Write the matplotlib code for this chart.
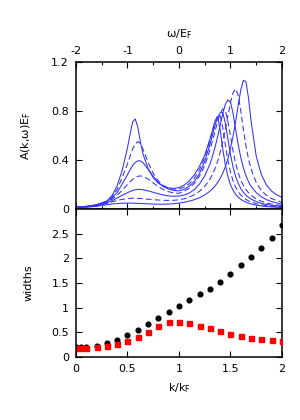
import matplotlib
matplotlib.use("Agg")
import matplotlib.pyplot as plt
from matplotlib.ticker import MultipleLocator

plt.rcParams['font.family'] = ['DejaVu Sans']
plt.rcParams['mathtext.fontset'] = 'dejavusans'

# ---- top panel: spectral functions A(k, w) E_F ----
omega = [-2.0, -1.8, -1.6, -1.4, -1.3, -1.2, -1.1, -1.0, -0.95, -0.9, -0.85, -0.8, -0.75, -0.7,
         -0.6, -0.5, -0.4, -0.3, -0.2, -0.1, 0.0, 0.1, 0.2, 0.3, 0.4, 0.5, 0.6,
         0.65, 0.7, 0.75, 0.8, 0.85, 0.9, 0.95, 1.0, 1.05, 1.1, 1.15, 1.2, 1.25, 1.3, 1.35, 1.4,
         1.5, 1.6, 1.7, 1.8, 1.9, 2.0]

A_k0 = [0.015, 0.022, 0.035, 0.065, 0.11, 0.19, 0.32, 0.50, 0.61, 0.71, 0.735, 0.67, 0.55, 0.45,
        0.33, 0.255, 0.21, 0.185, 0.172, 0.168, 0.175, 0.195, 0.23, 0.28, 0.35, 0.44, 0.57,
        0.64, 0.72, 0.755, 0.645, 0.49, 0.36, 0.265, 0.198, 0.153, 0.12, 0.096, 0.079, 0.066, 0.056, 0.047, 0.041,
        0.031, 0.025, 0.02, 0.017, 0.014, 0.012]
A_k1 = [0.014, 0.02, 0.033, 0.062, 0.10, 0.16, 0.26, 0.37, 0.43, 0.49, 0.53, 0.55, 0.535, 0.49,
        0.38, 0.29, 0.228, 0.19, 0.17, 0.162, 0.164, 0.178, 0.207, 0.253, 0.322, 0.42, 0.56,
        0.64, 0.71, 0.76, 0.765, 0.664, 0.524, 0.396, 0.298, 0.228, 0.177, 0.141, 0.114, 0.094, 0.078, 0.066, 0.057,
        0.043, 0.034, 0.028, 0.023, 0.02, 0.017]
A_k2 = [0.014, 0.02, 0.032, 0.06, 0.09, 0.135, 0.205, 0.28, 0.32, 0.355, 0.38, 0.393, 0.393, 0.378,
        0.325, 0.265, 0.215, 0.182, 0.162, 0.151, 0.148, 0.16, 0.187, 0.227, 0.292, 0.389, 0.525,
        0.605, 0.685, 0.75, 0.785, 0.787, 0.70, 0.57, 0.443, 0.342, 0.265, 0.209, 0.167, 0.136, 0.113, 0.095, 0.081,
        0.06, 0.046, 0.037, 0.03, 0.025, 0.021]
A_k3 = [0.013, 0.019, 0.03, 0.056, 0.08, 0.112, 0.155, 0.2, 0.222, 0.242, 0.257, 0.267, 0.27, 0.266,
        0.245, 0.213, 0.182, 0.158, 0.141, 0.131, 0.128, 0.145, 0.17, 0.21, 0.27, 0.355, 0.48,
        0.555, 0.635, 0.715, 0.78, 0.817, 0.804, 0.716, 0.593, 0.473, 0.373, 0.295, 0.236, 0.192, 0.158, 0.132, 0.111,
        0.082, 0.063, 0.049, 0.04, 0.033, 0.027]
A_k4 = [0.012, 0.018, 0.028, 0.05, 0.068, 0.09, 0.112, 0.133, 0.143, 0.151, 0.157, 0.16, 0.16, 0.157,
        0.148, 0.136, 0.124, 0.114, 0.107, 0.104, 0.106, 0.114, 0.13, 0.16, 0.205, 0.27, 0.365,
        0.43, 0.505, 0.59, 0.685, 0.78, 0.855, 0.89, 0.873, 0.78, 0.65, 0.525, 0.42, 0.335, 0.272, 0.223, 0.185,
        0.133, 0.099, 0.076, 0.06, 0.049, 0.04]
A_k5 = [0.011, 0.016, 0.025, 0.045, 0.058, 0.07, 0.079, 0.085, 0.087, 0.088, 0.088, 0.087, 0.086, 0.084,
        0.08, 0.076, 0.073, 0.071, 0.07, 0.071, 0.075, 0.083, 0.097, 0.117, 0.145, 0.185, 0.243,
        0.283, 0.33, 0.39, 0.463, 0.55, 0.652, 0.764, 0.87, 0.95, 0.98, 0.927, 0.80, 0.65, 0.515, 0.407, 0.325,
        0.215, 0.151, 0.111, 0.085, 0.068, 0.056]
A_k6 = [0.01, 0.015, 0.022, 0.035, 0.041, 0.045, 0.047, 0.048, 0.048, 0.048, 0.047, 0.046, 0.045, 0.044,
        0.042, 0.04, 0.039, 0.039, 0.04, 0.043, 0.048, 0.055, 0.064, 0.076, 0.092, 0.115, 0.145,
        0.165, 0.188, 0.215, 0.25, 0.292, 0.345, 0.41, 0.495, 0.595, 0.715, 0.85, 0.972, 1.05, 1.04, 0.905, 0.715,
        0.43, 0.28, 0.195, 0.145, 0.115, 0.095]

spectra = [A_k0, A_k1, A_k2, A_k3, A_k4, A_k5, A_k6]
styles = ['solid', 'dashed', 'solid', 'dashed', 'solid', 'dashed', 'solid']

# ---- bottom panel: widths vs k/k_F ----
k_vals = [0.0, 0.05, 0.1, 0.2, 0.3, 0.4, 0.5, 0.6, 0.7, 0.8, 0.9, 1.0, 1.1, 1.2, 1.3, 1.4,
          1.5, 1.6, 1.7, 1.8, 1.9, 2.0]
width_black = [0.195, 0.197, 0.2, 0.225, 0.286, 0.354, 0.436, 0.545, 0.668, 0.797, 0.92, 1.042,
               1.158, 1.274, 1.383, 1.526, 1.683, 1.86, 2.037, 2.207, 2.418, 2.677]
width_red = [0.184, 0.185, 0.19, 0.204, 0.225, 0.266, 0.32, 0.40, 0.504, 0.627, 0.70, 0.715,
             0.688, 0.634, 0.58, 0.525, 0.47, 0.422, 0.395, 0.368, 0.347, 0.32]

blue = '#3030ff'
fs = 8

fig = plt.figure(figsize=(3.0, 4.2), dpi=100)
ax1 = fig.add_axes([0.2533, 0.5024, 0.6867, 0.35])
ax2 = fig.add_axes([0.2533, 0.15, 0.6867, 0.3524])

for A, ls in zip(spectra, styles):
    if ls == 'dashed':
        ax1.plot(omega, A, color=blue, lw=0.75, ls=(0, (5.5, 3)))
    else:
        ax1.plot(omega, A, color=blue, lw=0.75, ls='-')

ax1.set_xlim(-2, 2)
ax1.set_ylim(0, 1.2)
ax1.xaxis.set_major_locator(MultipleLocator(1))
ax1.xaxis.set_minor_locator(MultipleLocator(0.5))
ax1.set_yticks([0, 0.4, 0.8, 1.2])
ax1.set_yticklabels(['0', '0.4', '0.8', '1.2'])
ax1.set_xticks([-2, -1, 0, 1, 2])
ax1.set_xticklabels(['-2', '-1', '0', '1', '2'])
ax1.tick_params(axis='x', which='both', direction='in', top=True, bottom=True,
                labeltop=True, labelbottom=False, labelsize=fs, pad=4)
ax1.tick_params(axis='x', which='major', length=4, width=0.8)
ax1.tick_params(axis='x', which='minor', length=2.5, width=0.8)
ax1.tick_params(axis='y', which='both', direction='in', left=True, right=True,
                labelsize=fs, length=4, width=0.8, pad=5)
ax1.xaxis.set_label_position('top')
ax1.set_xlabel('ω/E$_{\\rm F}$', fontsize=fs, labelpad=7)
ax1.set_ylabel('A(k,ω)E$_{\\rm F}$', fontsize=fs, labelpad=13)

ax2.plot(k_vals, width_black, 'o', color='black', ms=3.4, mec='black', zorder=3)
ax2.plot(k_vals, width_red, 's', color='#ff0000', ms=3.6, mec='#ff0000', zorder=4)
ax2.set_xlim(0, 2)
ax2.set_ylim(0, 3.0)
ax2.set_xticks([0, 0.5, 1, 1.5, 2])
ax2.set_xticklabels(['0', '0.5', '1', '1.5', '2'])
ax2.set_yticks([0, 0.5, 1, 1.5, 2, 2.5])
ax2.set_yticklabels(['0', '0.5', '1', '1.5', '2', '2.5'])
ax2.tick_params(axis='both', direction='in', top=True, right=True, labelsize=fs,
                length=4, width=0.8, pad=5)
ax2.set_xlabel('k/k$_{\\rm F}$', fontsize=fs, labelpad=5)
ax2.set_ylabel('widths', fontsize=fs, labelpad=13)

for ax in (ax1, ax2):
    for sp in ax.spines.values():
        sp.set_linewidth(1.1)
        sp.set_color('black')
    ax.spines['left'].set_zorder(5)

fig.savefig('out.png', dpi=100)
